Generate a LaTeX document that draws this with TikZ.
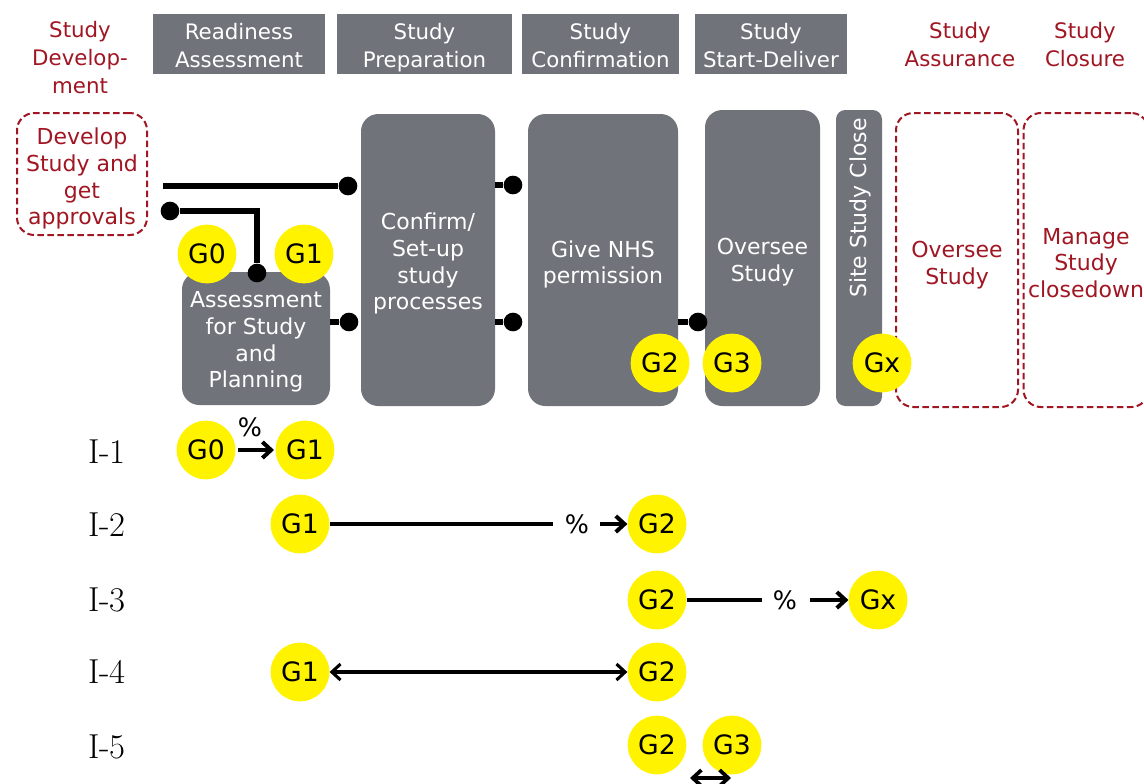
\documentclass[tikz,border=0pt]{standalone}
\usepackage{fontspec}
\newfontfamily\vfont{DejaVu Sans}
\usetikzlibrary{arrows.meta}
\definecolor{boxgray}{RGB}{112,115,122}
\definecolor{darkred}{RGB}{160,22,34}
\definecolor{gateyellow}{RGB}{255,243,0}
\tikzset{
  txt/.style={align=center, inner sep=0pt, execute at end node=\vphantom{p}},
  hdr/.style={fill=boxgray, inner sep=0pt, minimum height=45pt},
  hdrtxt/.style={txt, text=white, font=\vfont\fontsize{16}{21}\selectfont},
  redlbl/.style={txt, text=darkred, font=\vfont\fontsize{16}{21}\selectfont},
  procbox/.style={fill=boxgray, rounded corners=13pt, inner sep=0pt},
  dashbox/.style={draw=darkred, line width=1.5pt, dash pattern=on 5pt off 2.5pt, rounded corners=13pt, inner sep=0pt},
  boxtxt/.style={txt, text=white, font=\vfont\fontsize{16.5}{20}\selectfont},
  redtxt/.style={txt, text=darkred, font=\vfont\fontsize{16.5}{20}\selectfont},
  gate/.style={circle, fill=gateyellow, inner sep=0pt, minimum size=44pt, font=\vfont\fontsize{20}{20}\selectfont},
  conn/.style={line width=4.4pt},
  pin/.style={circle, fill=black, inner sep=0pt, minimum size=14pt},
  rowlbl/.style={font=\fontsize{26}{26}\selectfont, inner sep=0pt},
  pct/.style={font=\vfont\fontsize{19}{19}\selectfont, inner sep=0pt},
  arr/.style={line width=3pt, -{Straight Barb[length=6.5pt,width=12pt]}},
  plain/.style={line width=2.6pt},
  dbl/.style={line width=2.3pt, {Straight Barb[length=6.5pt,width=12pt]}-{Straight Barb[length=6.5pt,width=12pt]}}
}
\begin{document}
\begin{tikzpicture}[x=0.75pt,y=-0.75pt]
\useasboundingbox[fill=white] (0,0) rectangle (1144,783);

% header
\node[redlbl] (hdev) at (80,59.5) {Study\\Develop-\\ment};
\node[hdr, minimum width=129pt] (hra) at (239,44) {};
\node[hdr, minimum width=131.25pt] (hsp) at (424.5,44) {};
\node[hdr, minimum width=117.75pt] (hsc) at (600.5,44) {};
\node[hdr, minimum width=114pt] (hsd) at (771,44) {};
\node[hdrtxt] (hra-t) at ([yshift=-2.4pt]hra.center) {Readiness\\Assessment};
\node[hdrtxt] (hsp-t) at ([yshift=-2.4pt]hsp.center) {Study\\Preparation};
\node[hdrtxt] (hsc-t) at ([yshift=-2.4pt]hsc.center) {Study\\Confirmation};
\node[hdrtxt] (hsd-t) at ([yshift=-2.4pt]hsd.center) {Study\\Start-Deliver};
\node[redlbl] (hsa) at (960,47) {Study\\Assurance};
\node[redlbl] (hcl) at (1085,47) {Study\\Closure};

% process boxes
\node[dashbox, minimum width=97.5pt, minimum height=91.5pt] (dev) at (82,174) {};
\node[procbox, minimum width=111pt, minimum height=99.75pt] (assess) at (256,338.5) {};
\node[procbox, minimum width=100.5pt, minimum height=219pt] (confirm) at (428,260) {};
\node[procbox, minimum width=112.5pt, minimum height=219pt] (nhs) at (603,260) {};
\node[procbox, minimum width=86.25pt, minimum height=222pt] (oversee) at (762.5,258) {};
\node[procbox, rounded corners=7pt, minimum width=34.5pt, minimum height=222pt] (site) at (859,258) {};
\node[dashbox, minimum width=91.5pt, minimum height=220.5pt] (assure) at (957,260) {};
\node[dashbox, minimum width=93.75pt, minimum height=220.5pt] (manage) at (1086,260) {};

\node[redtxt] (dev-t) at ([yshift=-3.5pt]dev.center) {Develop\\Study and\\get\\approvals};
\node[boxtxt] (assess-t) at ([yshift=-2.6pt]assess.center) {Assessment\\for Study\\and\\Planning};
\node[boxtxt] (confirm-t) at ([yshift=-2.8pt]confirm.center) {Confirm/\\Set-up\\study\\processes};
\node[boxtxt] (nhs-t) at ([yshift=-3.3pt]nhs.center) {Give NHS\\permission};
\node[boxtxt] (oversee-t) at ([yshift=-3.3pt]oversee.center) {Oversee\\Study};
\node[boxtxt, rotate=90, execute at end node={}] (site-t) at (860,208) {Site Study Close};
\node[redtxt] (assure-t) at ([yshift=-3.6pt]assure.center) {Oversee\\Study};
\node[redtxt] (manage-t) at ([yshift=-3.8pt]manage.center) {Manage\\Study\\closedown};

% connectors
\coordinate (s1) at (163,186);
\node[pin] (p1) at (348,186) {};
\node[pin] (p2) at (170,211) {};
\node[pin] (p3) at (257,273) {};
\node[pin] (p4) at (349,322) {};
\node[pin] (p5) at (513,185) {};
\node[pin] (p6) at (513,322) {};
\node[pin] (p7) at (698,322) {};
\draw[conn] (s1) -- (p1);
\draw[conn] (p2) -| (p3);
\draw[conn] (assess.east |- p4) -- (p4);
\draw[conn] (confirm.east |- p5) -- (p5);
\draw[conn] (confirm.east |- p6) -- (p6);
\draw[conn] (nhs.east |- p7) -- (p7);

% gates on boxes
\node[gate] (tg0) at (207,254) {G0};
\node[gate] (tg1) at (304,254) {G1};
\node[gate] (tg2) at (660,363) {G2};
\node[gate] (tg3) at (732,363) {G3};
\node[gate] (tgx) at (882,363) {Gx};

% rows
\node[rowlbl] (r1) at (107,452) {I-1};
\node[rowlbl] (r2) at (107,525) {I-2};
\node[rowlbl] (r3) at (107,600) {I-3};
\node[rowlbl] (r4) at (107,672) {I-4};
\node[rowlbl] (r5) at (107,747) {I-5};

% I-1
\node[gate] (a0) at (206,450) {G0};
\node[gate] (a1) at (305,450) {G1};
\draw[arr] (238,450) coordinate (a0e) -- (274,450) coordinate (a1w);
\node[pct] (pa) at (250,427) {\%};

% I-2
\node[gate] (b1) at (300,524) {G1};
\node[gate] (b2) at (657,524) {G2};
\node[pct] (pb) at (577,524) {\%};
\draw[plain] (b1.east) -- ([xshift=-18pt]pb.center);
\draw[arr, shorten <=17pt] (pb.center) -- (b2.west);

% I-3
\node[gate] (c2) at (657,600) {G2};
\node[gate] (cx) at (878,600) {Gx};
\node[pct] (pc) at (785,600) {\%};
\draw[plain] (c2.east) -- ([xshift=-17pt]pc.center);
\draw[arr, shorten <=19pt] (pc.center) -- (cx.west);

% I-4
\node[gate] (d1) at (300,672) {G1};
\node[gate] (d2) at (657,672) {G2};
\draw[dbl] (d1.east) -- (d2.west);

% I-5
\node[gate] (e2) at (657,745) {G2};
\node[gate] (e3) at (732,745) {G3};
\coordinate (el) at (690,778);
\coordinate (er) at (731,778);
\draw[dbl, line width=2.8pt] (el) -- (er);
\end{tikzpicture}
\end{document}
